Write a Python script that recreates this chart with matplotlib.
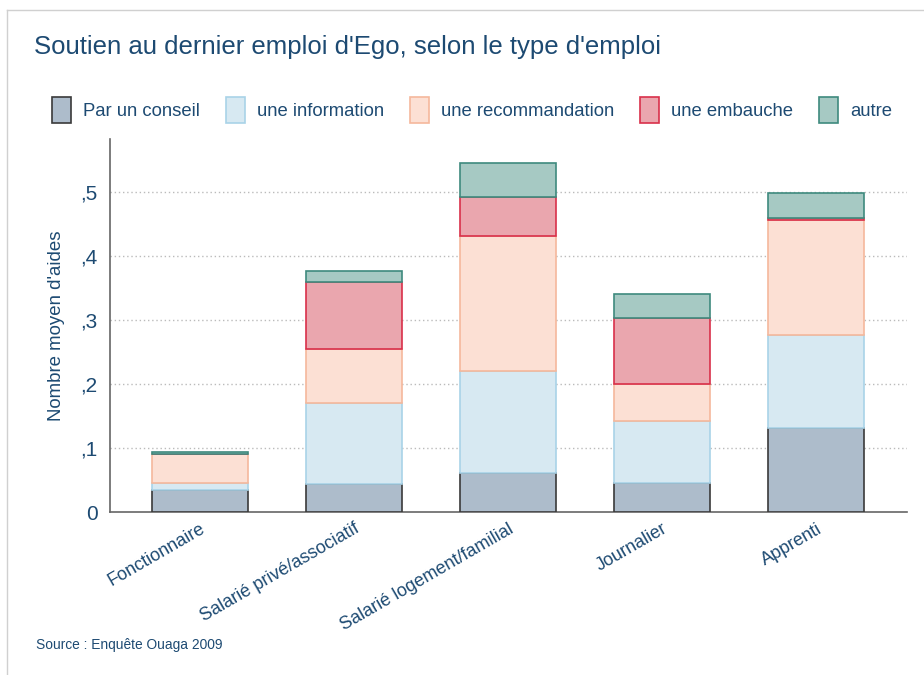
import matplotlib
matplotlib.use("Agg")
import matplotlib.pyplot as plt
import numpy as np
from matplotlib.lines import Line2D

plt.rcParams['font.family'] = ['Liberation Sans', 'DejaVu Sans']

categories = ["Fonctionnaire", "Salarié privé/associatif", "Salarié logement/familial", "Journalier", "Apprenti"]
series_names = ["Par un conseil", "une information", "une recommandation", "une embauche", "autre"]
conseil = [0.035, 0.044, 0.061, 0.045, 0.132]
information = [0.011, 0.127, 0.159, 0.098, 0.144]
recommandation = [0.044, 0.084, 0.212, 0.057, 0.180]
embauche = [0.001, 0.105, 0.061, 0.103, 0.004]
autre = [0.003, 0.017, 0.053, 0.037, 0.038]
ytick_vals = [0, 0.1, 0.2, 0.3, 0.4, 0.5]
ytick_labels = ["0", ",1", ",2", ",3", ",4", ",5"]

fills = ["#adbccb", "#d7e9f2", "#fce0d4", "#eaa6ae", "#a6c9c3"]
edges = ["#3a3a3a", "#a9d3e8", "#f5b89c", "#d9304a", "#3e8a7e"]
txt = "#1d4a72"

fig = plt.figure(figsize=(9.24, 6.75), dpi=100)
ax = fig.add_axes([110/924, 1-512/675, (907-110)/924, (512-139)/675])

x = np.arange(len(categories))
bottom = np.zeros(len(categories))
handles = []
for vals, name, fc, ec in zip([conseil, information, recommandation, embauche, autre], series_names, fills, edges):
    b = ax.bar(x, vals, 0.625, bottom=bottom, color=fc, edgecolor=ec, linewidth=1.2, label=name, zorder=3)
    handles.append(b)
    bottom += np.array(vals)

ax.set_xlim(-0.584, 4.59)
ax.set_ylim(0, 0.583)
ax.set_yticks(ytick_vals)
ax.set_yticklabels(ytick_labels, fontsize=15, color=txt)
ax.tick_params(axis='y', length=0, pad=9)
ax.tick_params(axis='x', length=0, pad=6)
ax.set_xticks(x)
ax.set_xticklabels(categories, rotation=30, ha='right', rotation_mode='anchor', fontsize=13, color=txt)
for yv in ytick_vals[1:]:
    ax.axhline(yv, color="#bbbbbb", linestyle=(0, (1, 2)), linewidth=1, zorder=1)
for s in ['top', 'right']:
    ax.spines[s].set_visible(False)
for s in ['left', 'bottom']:
    ax.spines[s].set_color("#666666")
    ax.spines[s].set_linewidth(1.2)
ax.set_ylabel("Nombre moyen d'aides", fontsize=13.4, color=txt, labelpad=11)

fig.text(34/924, 1-47/675, "Soutien au dernier emploi d'Ego, selon le type d'emploi", fontsize=18.5, color=txt, va='center', ha='left')
fig.text(36/924, 1-645/675, "Source : Enquête Ouaga 2009", fontsize=9.9, color=txt, va='center', ha='left')

leg = fig.legend(handles=handles, labels=series_names, loc='center left', bbox_to_anchor=(52/924, 1-110/675),
                 ncol=5, frameon=False, fontsize=13.3, handlelength=1.05, handleheight=1.8,
                 handletextpad=0.65, columnspacing=1.38, borderaxespad=0, borderpad=0)
for t in leg.get_texts():
    t.set_color(txt)

# frame border lines
fig.add_artist(Line2D([7/924, 1], [1-10/675, 1-10/675], color="#d0d0d0", linewidth=1))
fig.add_artist(Line2D([7/924, 7/924], [0, 1-10/675], color="#d0d0d0", linewidth=1))

fig.savefig("out.png", dpi=100)
